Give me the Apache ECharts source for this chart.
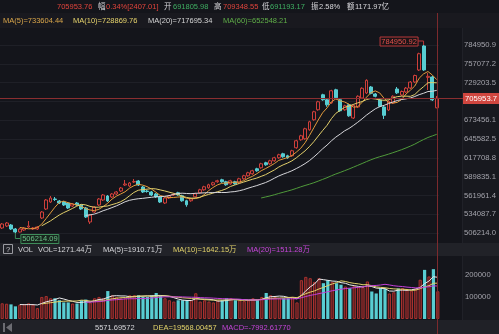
<!DOCTYPE html>
<html>
<head>
<meta charset="utf-8">
<script src="https://cdn.jsdelivr.net/npm/echarts@6/dist/echarts.min.js"></script>
<style>
  html, body { margin: 0; padding: 0; background: #14151b; }
  #chart { width: 499px; height: 334px; }
</style>
</head>
<body>
<div id="chart"></div>
<script>
// Daily index candles: open / close / low / high
const opens = [
  513635, 516600, 518083, 512153, 507705, 510670, 515118, 512153, 512153, 528461,
  541805, 552183, 556631, 553665, 552183, 550700, 546252, 550700, 547735, 543287,
  522531, 537357, 547735, 555148, 561078, 559596, 564044, 568491, 577387, 575904,
  581835, 583317, 574422, 568491, 567009, 564044, 559596, 550700, 558113, 562561,
  565861, 561413, 554000, 554000, 559931, 565861, 570309, 573274, 577722, 582170,
  585135, 582170, 579204, 582170, 580687, 586617, 591065, 594030, 601443, 602926,
  610339, 608856, 613304, 617752, 623682, 620717, 620717, 632578, 644439, 645921,
  659265, 674091, 688917, 711156, 703743, 699295, 718569, 703743, 688917, 696330,
  676721, 693030, 706373, 713786, 722682, 712304, 703408, 693030, 688582, 698960,
  719717, 710821, 715269, 721199, 730095, 747886, 783500, 737000, 737508, 691805.98
];
const closes = [
  519566, 521048, 512153, 507705, 512153, 513635, 516600, 513635, 515118, 537357,
  555148, 558113, 555900, 550700, 547735, 543287, 549218, 547735, 541805, 529944,
  532909, 544770, 556631, 562561, 553665, 564044, 567009, 572939, 578870, 580352,
  582500, 577387, 567009, 567750, 562561, 559596, 552183, 558113, 561078, 563300,
  562896, 554000, 548070, 556965, 564378, 570309, 574757, 577722, 580687, 583652,
  582170, 577722, 583652, 579204, 586617, 591065, 595513, 598478, 598478, 608856,
  607374, 613304, 617752, 622200, 619235, 617752, 628130, 642956, 650369, 660747,
  671126, 685952, 700778, 703743, 696330, 717086, 706708, 687434, 694847, 679971.8,
  695500, 708900, 720800, 732600, 713300, 708900, 694100, 680700, 701500, 708909.2,
  714000, 716000, 721000, 730000, 739675.4, 772000, 748000, 738521.7, 703546.75, 705953.76
];
const lows = [
  512153, 515118, 510670, 506214.09, 506900, 509200, 513635, 510670, 510670, 527000,
  540322, 550700, 553665, 549218, 546252, 541805, 544770, 546252, 540322, 528461,
  519566, 535874, 546252, 553665, 552183, 558113, 562561, 567009, 575904, 574422,
  580352, 575904, 565526, 566000, 561078, 558113, 550700, 549218, 556631, 561078,
  561413, 552518, 545105, 552518, 558448, 564378, 568826, 571791, 576239, 580687,
  580687, 576239, 577722, 577722, 579204, 585135, 589583, 592548, 596996, 601443,
  605891, 607374, 611822, 616269, 617752, 616269, 619235, 631095, 642956, 644439,
  657782, 672608, 687434, 702260, 693365, 697812, 705225, 685952, 687434, 678539,
  675239, 691547, 704890, 712300, 711800, 707400, 692600, 675239, 687100, 697478,
  712304, 709338, 713786, 719717, 728612, 746400, 746500, 718234, 702000, 691193.17
];
const highs = [
  521048, 522531, 519566, 513635, 513635, 515118, 524013, 515118, 516600, 538840,
  556631, 561078, 559596, 555148, 553665, 552183, 550700, 552183, 549218, 544770,
  534392, 546252, 558113, 564044, 562561, 565526, 568491, 574422, 584800, 581835,
  586283, 584800, 575904, 569974, 568491, 565526, 561078, 559596, 562561, 565526,
  567344, 562896, 555483, 558448, 565861, 571791, 576239, 579204, 582170, 585135,
  586617, 583652, 585135, 583652, 588100, 592548, 596996, 599961, 602926, 610339,
  611822, 614787, 619235, 623682, 625165, 622200, 629613, 644439, 651852, 662230,
  672608, 687434, 702260, 712638, 705225, 718569, 720051, 705225, 696330, 697812,
  697000, 710400, 722300, 734100, 724164, 713786, 704890, 694512, 703000, 710400,
  722682, 717500, 722682, 731577, 741000, 773500, 784950.92, 743438, 739000, 709348.55
];
// Volume per session (lots)
const volumes = [
  72000, 70000, 67000, 58000, 65000, 68000, 72000, 66000, 50000, 101000,
  105000, 95000, 95000, 86000, 76000, 76000, 71000, 71000, 86000, 89000,
  76000, 95000, 101000, 95000, 128000, 109000, 101000, 95000, 95000, 109000,
  109000, 109000, 101000, 101000, 109000, 119000, 109000, 95000, 86000, 80000,
  86000, 86000, 86000, 86000, 118000, 80000, 86000, 80000, 76000, 86000,
  86000, 95000, 95000, 86000, 86000, 82000, 86000, 95000, 86000, 101000,
  119000, 109000, 101000, 95000, 95000, 95000, 101000, 76000, 178000, 193000,
  187000, 170000, 187000, 164000, 178000, 170000, 164000, 157000, 149000, 141000,
  152000, 147000, 146000, 172000, 126000, 117000, 141000, 140000, 117000, 122410,
  140000, 142000, 135000, 130000, 139795, 180000, 225000, 195000, 228211, 127144
];
const pricePeriods = [5, 10, 20, 60];
const volumePeriods = [5, 10, 20];
const turnover = '1171.97亿';
const macdDif = '5571.69572';
const macdDea = '19568.00457';
const macdHist = '-7992.61770';

// ---- styling ----
const BG = '#14151b';
const UP = '#cf3f3a';
const DOWN = '#58cdd2';
const GREEN_TXT = '#3fae62';
const PRICE_MA_COLORS = ['#e19a3c', '#e2cf6a', '#d6d6da', '#4f9a3a'];
const PRICE_MA_LABEL = ['#d9a64a', '#e6d36c', '#d4d4d4', '#5fae48'];
const VOL_MA_COLORS = ['#e8e8ea', '#e2d26a', '#c23fd8'];
const FONT = "7.5px 'Liberation Sans', 'Noto Sans CJK SC', sans-serif";
const AXIS_FONT_SIZE = 7.7;
const VOL_AXIS_MAX = 284000;

const N = closes.length;
const cats = closes.map((_, i) => String(i + 1));
const candles = opens.map((o, i) => [o, closes[i], lows[i], highs[i]]);
const priceLo = Math.min(...lows);
const priceHi = Math.max(...highs);
const loIdx = lows.indexOf(priceLo);
const hiIdx = highs.indexOf(priceHi);
const step = (priceHi - priceLo) / 10;
const lastClose = closes[N - 1];
const prevClose = closes[N - 2];
const trunc1 = v => (Math.floor(v * 10 + 1e-6) / 10).toFixed(1);

function movingAvg(arr, n) {
  return arr.map((_, i) => {
    if (i < n - 1) return '-';
    let s = 0;
    for (let k = i - n + 1; k <= i; k++) s += arr[k];
    return s / n;
  });
}
const priceMA = pricePeriods.map(p => movingAvg(closes, p));
const volMA = volumePeriods.map(p => movingAvg(volumes, p));

const volData = volumes.map((v, i) => ({
  value: v,
  itemStyle: closes[i] > opens[i]
    ? { color: '#4e1a1e', borderColor: '#a8322f', borderWidth: 1 }
    : { color: DOWN, borderColor: DOWN, borderWidth: 0 }
}));

const chart = echarts.init(document.getElementById('chart'), null, { renderer: 'canvas' });

const option = {
  backgroundColor: BG,
  animation: false,
  grid: [
    { left: 0, width: 440, top: 45, height: 188 },
    { left: 0, width: 440, top: 257, height: 62 }
  ],
  xAxis: [
    { type: 'category', gridIndex: 0, data: cats, boundaryGap: true, show: false },
    { type: 'category', gridIndex: 1, data: cats, boundaryGap: true, show: false }
  ],
  yAxis: [
    { type: 'value', gridIndex: 0, min: priceLo, max: priceHi, show: false },
    {
      type: 'value', gridIndex: 0, min: 0, max: 10, interval: 1, position: 'right',
      axisLine: { show: false }, axisTick: { show: false },
      splitLine: { show: true, lineStyle: { color: '#1f2027', width: 1 } },
      axisLabel: {
        show: true, inside: false, margin: 25, align: 'left',
        color: '#a3a3ab', fontSize: AXIS_FONT_SIZE,
        fontFamily: "'Liberation Sans', sans-serif",
        formatter: k => {
          const v = priceLo + k * step;
          if (Math.abs(v - lastClose) < step * 0.45) return '';
          return trunc1(v);
        }
      }
    },
    {
      type: 'value', gridIndex: 1, min: 0, max: VOL_AXIS_MAX, interval: 100000, position: 'right',
      axisLine: { show: false }, axisTick: { show: false },
      splitLine: { show: false },
      axisLabel: {
        margin: 25, align: 'left', color: '#a3a3ab', fontSize: AXIS_FONT_SIZE,
        fontFamily: "'Liberation Sans', sans-serif",
        showMaxLabel: false,
        formatter: v => (v > 0 && v < VOL_AXIS_MAX * 0.9) ? String(v) : ''
      }
    }
  ],
  series: [
    {
      type: 'candlestick', name: 'K', xAxisIndex: 0, yAxisIndex: 0,
      data: candles, barWidth: 3.4,
      itemStyle: { color: BG, color0: DOWN, borderColor: UP, borderColor0: DOWN, borderWidth: 1 }
    },
    ...priceMA.map((d, i) => ({
      type: 'line', xAxisIndex: 0, yAxisIndex: 0, data: d, symbol: 'none',
      lineStyle: { color: PRICE_MA_COLORS[i], width: 1 }, z: 3
    })),
    {
      type: 'custom', xAxisIndex: 0, yAxisIndex: 0, z: 20,
      data: [[hiIdx, priceHi], [loIdx, priceLo]],
      renderItem: (params, api) => {
        const p = api.coord([api.value(0), api.value(1)]);
        const isHigh = params.dataIndex === 0;
        const w = 38, h = 9;
        const label = (isHigh ? priceHi : priceLo).toFixed(2);
        if (isHigh) {
          const bx = p[0] - 6 - w, by = p[1] - 8.5, my = by + h / 2;
          return {
            type: 'group', children: [
              { type: 'polyline', shape: { points: [[bx + w, my], [p[0], my], [p[0], p[1]]] },
                style: { stroke: '#b8383a', lineWidth: 1, fill: null } },
              { type: 'rect', shape: { x: bx + 0.5, y: by + 0.5, width: w, height: h },
                style: { fill: '#1c1417', stroke: '#b8383a', lineWidth: 1 } },
              { type: 'text', x: bx + w / 2 + 0.5, y: my + 0.5,
                style: { text: label, fill: '#e2514c', font: FONT, align: 'center', verticalAlign: 'middle' } }
            ]
          };
        }
        const bx = p[0] + 5, by = p[1] + 1, my = by + h / 2;
        return {
          type: 'group', children: [
            { type: 'polyline', shape: { points: [[p[0], p[1]], [p[0], my], [bx, my]] },
              style: { stroke: '#3e8c5a', lineWidth: 1, fill: null } },
            { type: 'rect', shape: { x: bx + 0.5, y: by + 0.5, width: w, height: h },
              style: { fill: '#17251d', stroke: '#3e8c5a', lineWidth: 1 } },
            { type: 'text', x: bx + w / 2 + 0.5, y: my + 0.5,
              style: { text: label, fill: '#6cc38a', font: FONT, align: 'center', verticalAlign: 'middle' } }
          ]
        };
      }
    },
    {
      type: 'bar', xAxisIndex: 1, yAxisIndex: 2, data: volData, barWidth: 3.2
    },
    ...volMA.map((d, i) => ({
      type: 'line', xAxisIndex: 1, yAxisIndex: 2, data: d, symbol: 'none',
      lineStyle: { color: VOL_MA_COLORS[i], width: 1 }, z: 3
    }))
  ]
};
chart.setOption(option);

// ---- header, bands, crosshair ----
const lastOpen = opens[N - 1], lastHigh = highs[N - 1], lastLow = lows[N - 1];
const chg = lastClose - prevClose;
const chgPct = chg / prevClose * 100;
const amp = (lastHigh - lastLow) / prevClose * 100;
const fmtWan = v => (v / 100).toFixed(2) + '万';
const lastOf = arr => arr[arr.length - 1];

function txt(id, x, y, text, fill) {
  return { type: 'text', id, x, y, z: 60,
    style: { text, fill, font: FONT, verticalAlign: 'middle', align: 'left' } };
}

const cx = chart.convertToPixel({ xAxisIndex: 0 }, N - 1);
const cy = chart.convertToPixel({ yAxisIndex: 0 }, lastClose);
const WHITE = '#d6d6da';

const elements = [
  { type: 'rect', id: 'rowBand', z: -1, shape: { x: 0, y: 13, width: 499, height: 15 }, style: { fill: '#19191f' } },
  { type: 'rect', id: 'axisPanel', z: -1, shape: { x: 462, y: 28, width: 37, height: 292 }, style: { fill: '#18191f' } },
  { type: 'line', id: 'axisSep', z: -1, shape: { x1: 462.5, y1: 28, x2: 462.5, y2: 320 }, style: { stroke: '#202128', lineWidth: 1 } },
  { type: 'rect', id: 'volBand', z: 1, shape: { x: 0, y: 243, width: 499, height: 13 }, style: { fill: '#212228' } },
  { type: 'rect', id: 'macdBand', z: 1, shape: { x: 0, y: 320, width: 499, height: 14 }, style: { fill: '#202127' } },

  // crosshair at the latest session
  { type: 'line', id: 'crossV', z: 40, shape: { x1: Math.round(cx) + 0.5, y1: 13, x2: Math.round(cx) + 0.5, y2: 334 },
    style: { stroke: '#7c2a2d', lineWidth: 1 } },
  { type: 'line', id: 'crossH', z: 40, shape: { x1: 0, y1: Math.round(cy) + 0.5, x2: 463, y2: Math.round(cy) + 0.5 },
    style: { stroke: '#8a2e30', lineWidth: 1 } },
  { type: 'rect', id: 'tagBox', z: 70, shape: { x: 463, y: Math.round(cy) - 5, width: 36, height: 11 },
    style: { fill: '#d0463f' } },
  { type: 'text', id: 'tagTxt', z: 71, x: 465, y: Math.round(cy) + 0.5,
    style: { text: trunc1(lastClose), fill: '#ffffff', font: "7.7px 'Liberation Sans', sans-serif", verticalAlign: 'middle' } },

  // quote line
  txt('q1', 57, 7, lastClose.toFixed(2), '#e0443c'),
  txt('q2', 98, 7, '幅', WHITE),
  txt('q3', 106, 7, chgPct.toFixed(2) + '%[' + chg.toFixed(2) + ']', '#e0443c'),
  txt('q4', 164, 7, '开', WHITE),
  txt('q5', 173, 7, lastOpen.toFixed(2), GREEN_TXT),
  txt('q6', 214, 7, '高', WHITE),
  txt('q7', 223, 7, lastHigh.toFixed(2), '#e0443c'),
  txt('q8', 262, 7, '低', WHITE),
  txt('q9', 270, 7, lastLow.toFixed(2), GREEN_TXT),
  txt('q10', 311, 7, '振', WHITE),
  txt('q11', 319, 7, amp.toFixed(2) + '%', WHITE),
  txt('q12', 347, 7, '额', WHITE),
  txt('q13', 355, 7, turnover, WHITE),

  // price moving averages
  txt('m1', 3, 20.5, 'MA(' + pricePeriods[0] + ')=' + lastOf(priceMA[0]).toFixed(2), PRICE_MA_LABEL[0]),
  txt('m2', 73, 20.5, 'MA(' + pricePeriods[1] + ')=' + lastOf(priceMA[1]).toFixed(2), PRICE_MA_LABEL[1]),
  txt('m3', 148, 20.5, 'MA(' + pricePeriods[2] + ')=' + lastOf(priceMA[2]).toFixed(2), PRICE_MA_LABEL[2]),
  txt('m4', 223, 20.5, 'MA(' + pricePeriods[3] + ')=' + lastOf(priceMA[3]).toFixed(2), PRICE_MA_LABEL[3]),

  // volume legend
  { type: 'rect', id: 'helpBox', z: 60, shape: { x: 3.5, y: 244.5, width: 9, height: 9 },
    style: { fill: null, stroke: '#9a9aa0', lineWidth: 1 } },
  { type: 'text', id: 'helpTxt', z: 60, x: 8, y: 249.5,
    style: { text: '?', fill: '#c8c8cc', font: FONT, align: 'center', verticalAlign: 'middle' } },
  txt('v0', 18, 249.5, 'VOL', WHITE),
  txt('v1', 38, 249.5, 'VOL=' + fmtWan(lastOf(volumes)), WHITE),
  txt('v2', 103, 249.5, 'MA(' + volumePeriods[0] + ')=' + fmtWan(lastOf(volMA[0])), WHITE),
  txt('v3', 173, 249.5, 'MA(' + volumePeriods[1] + ')=' + fmtWan(lastOf(volMA[1])), '#e2d26a'),
  txt('v4', 247, 249.5, 'MA(' + volumePeriods[2] + ')=' + fmtWan(lastOf(volMA[2])), '#c545d8'),

  // MACD legend
  { type: 'rect', id: 'macdIcon1', z: 60, shape: { x: 3, y: 323, width: 2, height: 9 }, style: { fill: '#6c6c72' } },
  { type: 'polygon', id: 'macdIcon2', z: 60, shape: { points: [[6, 327.5], [12, 323], [12, 332]] }, style: { fill: '#6c6c72' } },
  txt('d1', 95, 327.5, macdDif, WHITE),
  txt('d2', 153, 327.5, 'DEA=' + macdDea, '#e2d26a'),
  txt('d3', 222, 327.5, 'MACD=' + macdHist, '#c545d8')
];

chart.setOption({ graphic: { elements } });
</script>
</body>
</html>
